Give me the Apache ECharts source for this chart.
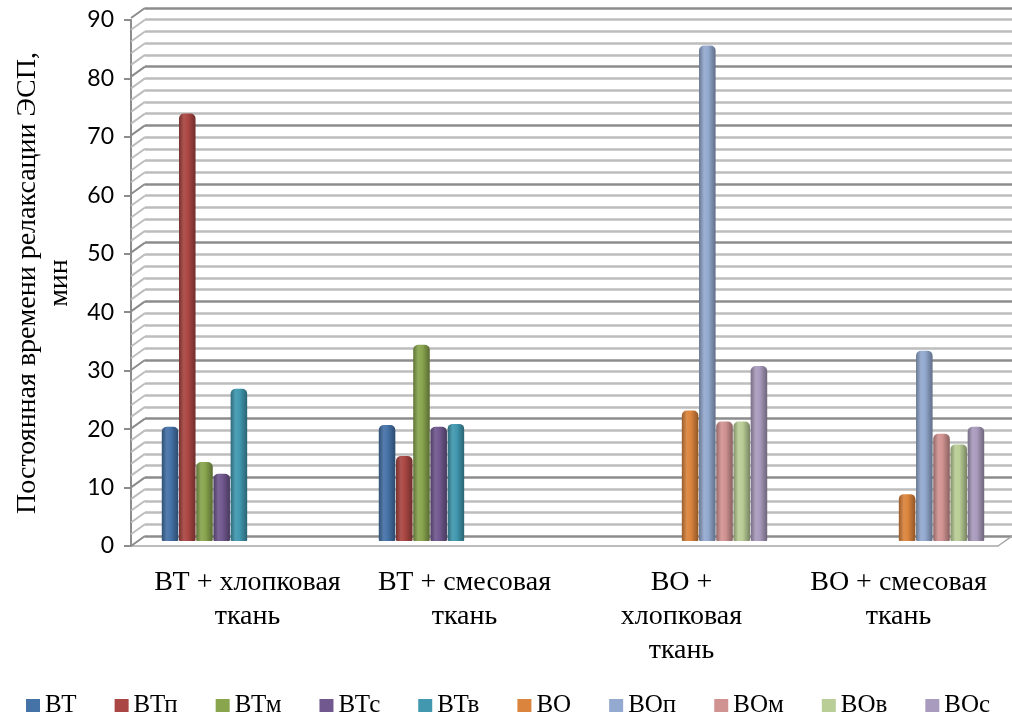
<!DOCTYPE html>
<html><head><meta charset="utf-8">
<script src="https://cdn.jsdelivr.net/npm/echarts@6/dist/echarts.min.js"></script>
<style>html,body{margin:0;padding:0;background:#fff}#c{width:1012px;height:717px}</style>
</head><body><div id="c"></div>
<script>
const categories = ['ВТ + хлопковая\nткань', 'ВТ + смесовая\nткань', 'ВО +\nхлопковая\nткань', 'ВО + смесовая\nткань'];
const seriesNames = ['ВТ', 'ВТп', 'ВТм', 'ВТс', 'ВТв', 'ВО', 'ВОп', 'ВОм', 'ВОв', 'ВОс'];
const ВТ  = [19.5, 19.8, null, null];
const ВТп = [73, 14.5, null, null];
const ВТм = [13.5, 33.5, null, null];
const ВТс = [11.5, 19.5, null, null];
const ВТв = [26, 20, null, null];
const ВО  = [null, null, 22.3, 8];
const ВОп = [null, null, 84.6, 32.5];
const ВОм = [null, null, 20.4, 18.3];
const ВОв = [null, null, 20.4, 16.5];
const ВОс = [null, null, 29.9, 19.5];
const seriesValues = [ВТ, ВТп, ВТм, ВТс, ВТв, ВО, ВОп, ВОм, ВОв, ВОс];
const yTicks = { min: 0, max: 90, interval: 10 };
const colors = ['#4572A7', '#AA4643', '#89A54E', '#71588F', '#4198AF', '#DB843D', '#93A9CF', '#D19392', '#B9CD96', '#A99BBD'];

function shade(hex, f) {
  const n = parseInt(hex.slice(1), 16);
  let r = (n >> 16) & 255, g = (n >> 8) & 255, b = n & 255;
  const adj = c => f < 0 ? Math.round(c * (1 + f)) : Math.round(c + (255 - c) * f);
  r = adj(r); g = adj(g); b = adj(b);
  return 'rgb(' + r + ',' + g + ',' + b + ')';
}
function cyl(c) {
  return new echarts.graphic.LinearGradient(0, 0, 1, 0, [
    { offset: 0, color: shade(c, -0.3) },
    { offset: 0.3, color: shade(c, 0.08) },
    { offset: 0.55, color: c },
    { offset: 1, color: shade(c, -0.35) }
  ]);
}

const serif = '"Liberation Serif", "DejaVu Serif", serif';
const DX = 14, DY = 10; // 3D depth offset of back wall vs front axis

const chart = echarts.init(document.getElementById('c'), null, { renderer: 'canvas' });

const barSeries = seriesNames.map((name, i) => ({
  name: name,
  type: 'bar',
  xAxisIndex: 1, yAxisIndex: 1,
  data: seriesValues[i],
  barGap: '4%',
  barCategoryGap: '21%',
  itemStyle: { color: cyl(colors[i]), borderRadius: [5, 5, 1, 1] },
  emphasis: { disabled: true }
}));

const gridBase = { containLabel: false, outerBoundsMode: 'none' };

const option = {
  animation: false,
  color: colors,
  grid: [
    Object.assign({ left: 145, right: 0, top: 8, bottom: 717 - 536 }, gridBase),   // back wall
    Object.assign({ left: 139, right: 5, top: 14, bottom: 717 - 541 }, gridBase),  // bars (mid depth)
    Object.assign({ left: 131, right: 14, top: 20, bottom: 717 - 546 }, gridBase)  // front axis
  ],
  xAxis: [
    { gridIndex: 0, type: 'value', min: 0, max: 1, show: false },
    { gridIndex: 1, type: 'category', data: categories,
      axisLine: { show: false }, axisTick: { show: false },
      axisLabel: { fontFamily: serif, fontSize: 28, color: '#000', lineHeight: 34, margin: 25, interval: 0 } },
    { gridIndex: 2, type: 'category', data: categories,
      axisLine: { show: true, lineStyle: { color: '#a6a6a6', width: 1.5 } },
      axisTick: { show: false }, axisLabel: { show: false } }
  ],
  yAxis: [
    { gridIndex: 0, type: 'value', min: yTicks.min, max: yTicks.max, interval: yTicks.interval,
      axisLine: { show: false }, axisTick: { show: false }, axisLabel: { show: false },
      splitLine: { show: true, lineStyle: { color: '#8c8c8c', width: 2.5 } },
      minorTick: { show: false, splitNumber: 5 },
      minorSplitLine: { show: true, lineStyle: { color: '#bdbdbd', width: 2.5 } } },
    { gridIndex: 1, type: 'value', min: yTicks.min, max: yTicks.max, interval: yTicks.interval, show: false },
    { gridIndex: 2, type: 'value', min: yTicks.min, max: yTicks.max, interval: yTicks.interval,
      axisLine: { show: true, lineStyle: { color: '#8c8c8c', width: 2 } },
      axisTick: { show: true, length: 7, lineStyle: { color: '#8c8c8c', width: 2 } },
      axisLabel: { fontFamily: 'Lato, "Open Sans", sans-serif', fontSize: 23, color: '#000', margin: 17 },
      splitLine: { show: false },
      name: 'Постоянная времени релаксации ЭСП,\nмин',
      nameLocation: 'middle', nameGap: 55, nameRotate: 90,
      nameTextStyle: { fontFamily: serif, fontSize: 28, color: '#000', lineHeight: 32, align: 'center' } }
  ],
  legend: {
    data: seriesNames.map((n, i) => ({ name: n, itemStyle: { color: colors[i] } })),
    top: 693, left: 26,
    itemWidth: 14, itemHeight: 13, itemGap: 38,
    icon: 'rect',
    padding: 0,
    textStyle: { fontFamily: serif, fontSize: 25, color: '#000' },
    selectedMode: false
  },
  series: [
    {
      type: 'custom', xAxisIndex: 0, yAxisIndex: 0, silent: true, z: 1,
      data: [[0, 0]],
      renderItem: function (params, api) {
        const children = [];
        for (let v = yTicks.min; v <= yTicks.max; v += 2) {
          const p = api.coord([0, v]);
          const major = v % 10 === 0;
          children.push({ type: 'line', shape: { x1: p[0] - DX, y1: p[1] + DY, x2: p[0], y2: p[1] },
            style: { stroke: major ? '#8c8c8c' : '#bdbdbd', lineWidth: 2 } });
        }
        const br = api.coord([1, 0]);
        children.push({ type: 'line', shape: { x1: br[0] - DX, y1: br[1] + DY, x2: br[0], y2: br[1] },
          style: { stroke: '#a6a6a6', lineWidth: 1.5 } });
        return { type: 'group', children: children };
      }
    }
  ].concat(barSeries)
};
chart.setOption(option);
</script>
</body></html>
